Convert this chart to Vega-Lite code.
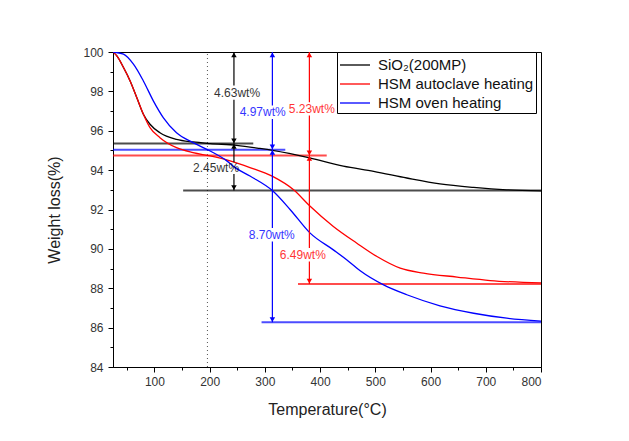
{
  "$schema": "https://vega.github.io/schema/vega-lite/v6.json",
  "width": 428,
  "height": 315,
  "autosize": "none",
  "padding": {"left": 113, "top": 52, "right": 88, "bottom": 74},
  "background": "white",
  "config": {
    "view": {"stroke": "black", "strokeWidth": 1},
    "font": "Liberation Sans",
    "axis": {
      "domainColor": "black",
      "tickColor": "black",
      "labelColor": "#333",
      "labelFont": "Liberation Sans",
      "labelFontSize": 12,
      "titleFont": "Liberation Sans",
      "titleFontSize": 15,
      "titleFontWeight": "normal",
      "titleColor": "#222",
      "grid": false
    }
  },
  "datasets": {
    "curves": [
      {"series": "SiO₂(200MP)", "T": 25, "v": 100},
      {"series": "SiO₂(200MP)", "T": 32, "v": 99.8},
      {"series": "SiO₂(200MP)", "T": 44, "v": 99.21},
      {"series": "SiO₂(200MP)", "T": 56, "v": 98.53},
      {"series": "SiO₂(200MP)", "T": 68, "v": 97.69},
      {"series": "SiO₂(200MP)", "T": 80, "v": 96.84},
      {"series": "SiO₂(200MP)", "T": 92, "v": 96.33},
      {"series": "SiO₂(200MP)", "T": 110, "v": 95.9},
      {"series": "SiO₂(200MP)", "T": 140, "v": 95.56},
      {"series": "SiO₂(200MP)", "T": 170, "v": 95.43},
      {"series": "SiO₂(200MP)", "T": 201, "v": 95.35},
      {"series": "SiO₂(200MP)", "T": 249, "v": 95.26},
      {"series": "SiO₂(200MP)", "T": 291, "v": 95.1},
      {"series": "SiO₂(200MP)", "T": 314, "v": 95.0},
      {"series": "SiO₂(200MP)", "T": 381, "v": 94.62},
      {"series": "SiO₂(200MP)", "T": 442, "v": 94.2},
      {"series": "SiO₂(200MP)", "T": 497, "v": 93.94},
      {"series": "SiO₂(200MP)", "T": 557, "v": 93.6},
      {"series": "SiO₂(200MP)", "T": 617, "v": 93.3},
      {"series": "SiO₂(200MP)", "T": 678, "v": 93.12},
      {"series": "SiO₂(200MP)", "T": 738, "v": 93.0},
      {"series": "SiO₂(200MP)", "T": 800, "v": 92.95},
      {"series": "HSM autoclave heating", "T": 25, "v": 100},
      {"series": "HSM autoclave heating", "T": 32, "v": 99.8},
      {"series": "HSM autoclave heating", "T": 44, "v": 99.21},
      {"series": "HSM autoclave heating", "T": 56, "v": 98.53},
      {"series": "HSM autoclave heating", "T": 68, "v": 97.69},
      {"series": "HSM autoclave heating", "T": 80, "v": 96.84},
      {"series": "HSM autoclave heating", "T": 92, "v": 96.16},
      {"series": "HSM autoclave heating", "T": 110, "v": 95.65},
      {"series": "HSM autoclave heating", "T": 140, "v": 95.14},
      {"series": "HSM autoclave heating", "T": 170, "v": 94.89},
      {"series": "HSM autoclave heating", "T": 201, "v": 94.72},
      {"series": "HSM autoclave heating", "T": 237, "v": 94.47},
      {"series": "HSM autoclave heating", "T": 273, "v": 94.13},
      {"series": "HSM autoclave heating", "T": 314, "v": 93.68},
      {"series": "HSM autoclave heating", "T": 352, "v": 93.0},
      {"series": "HSM autoclave heating", "T": 381, "v": 92.19},
      {"series": "HSM autoclave heating", "T": 424, "v": 91.14},
      {"series": "HSM autoclave heating", "T": 466, "v": 90.3},
      {"series": "HSM autoclave heating", "T": 503, "v": 89.61},
      {"series": "HSM autoclave heating", "T": 545, "v": 89.02},
      {"series": "HSM autoclave heating", "T": 587, "v": 88.77},
      {"series": "HSM autoclave heating", "T": 648, "v": 88.57},
      {"series": "HSM autoclave heating", "T": 708, "v": 88.39},
      {"series": "HSM autoclave heating", "T": 800, "v": 88.27},
      {"series": "HSM oven heating", "T": 25, "v": 100},
      {"series": "HSM oven heating", "T": 44, "v": 99.89},
      {"series": "HSM oven heating", "T": 62, "v": 99.38},
      {"series": "HSM oven heating", "T": 80, "v": 98.53},
      {"series": "HSM oven heating", "T": 98, "v": 97.52},
      {"series": "HSM oven heating", "T": 116, "v": 96.67},
      {"series": "HSM oven heating", "T": 140, "v": 95.9},
      {"series": "HSM oven heating", "T": 170, "v": 95.4},
      {"series": "HSM oven heating", "T": 201, "v": 94.97},
      {"series": "HSM oven heating", "T": 231, "v": 94.47},
      {"series": "HSM oven heating", "T": 243, "v": 94.19},
      {"series": "HSM oven heating", "T": 273, "v": 93.7},
      {"series": "HSM oven heating", "T": 314, "v": 92.95},
      {"series": "HSM oven heating", "T": 346, "v": 91.99},
      {"series": "HSM oven heating", "T": 382, "v": 90.8},
      {"series": "HSM oven heating", "T": 424, "v": 89.95},
      {"series": "HSM oven heating", "T": 448, "v": 89.45},
      {"series": "HSM oven heating", "T": 472, "v": 88.9},
      {"series": "HSM oven heating", "T": 515, "v": 88.17},
      {"series": "HSM oven heating", "T": 557, "v": 87.67},
      {"series": "HSM oven heating", "T": 617, "v": 87.11},
      {"series": "HSM oven heating", "T": 678, "v": 86.73},
      {"series": "HSM oven heating", "T": 738, "v": 86.48},
      {"series": "HSM oven heating", "T": 800, "v": 86.33}
    ],
    "hlines": [
      {"series": "SiO₂(200MP)", "x1": 25, "x2": 279, "v": 95.35},
      {"series": "SiO₂(200MP)", "x1": 152, "x2": 800, "v": 92.97},
      {"series": "HSM oven heating", "x1": 25, "x2": 337, "v": 95.04},
      {"series": "HSM oven heating", "x1": 294, "x2": 800, "v": 86.27},
      {"series": "HSM autoclave heating", "x1": 25, "x2": 412, "v": 94.74},
      {"series": "HSM autoclave heating", "x1": 360, "x2": 800, "v": 88.22}
    ],
    "vsegs": [
      {"series": "SiO₂(200MP)", "T": 244, "y1": 100, "y2": 98.3},
      {"series": "SiO₂(200MP)", "T": 244, "y1": 97.58, "y2": 95.35},
      {"series": "SiO₂(200MP)", "T": 244, "y1": 95.35, "y2": 94.4},
      {"series": "SiO₂(200MP)", "T": 244, "y1": 93.8, "y2": 92.97},
      {"series": "HSM oven heating", "T": 313.6, "y1": 100, "y2": 97.28},
      {"series": "HSM oven heating", "T": 313.6, "y1": 96.6, "y2": 95.04},
      {"series": "HSM oven heating", "T": 313.6, "y1": 95.04, "y2": 91.06},
      {"series": "HSM oven heating", "T": 313.6, "y1": 90.38, "y2": 86.27},
      {"series": "HSM autoclave heating", "T": 380.6, "y1": 100, "y2": 97.45},
      {"series": "HSM autoclave heating", "T": 380.6, "y1": 96.77, "y2": 94.74},
      {"series": "HSM autoclave heating", "T": 380.6, "y1": 94.74, "y2": 90.04},
      {"series": "HSM autoclave heating", "T": 380.6, "y1": 89.36, "y2": 88.22}
    ],
    "heads": [
      {"series": "SiO₂(200MP)", "T": 244, "v": 99.85, "dir": "up"},
      {"series": "SiO₂(200MP)", "T": 244, "v": 95.49, "dir": "down"},
      {"series": "SiO₂(200MP)", "T": 244, "v": 95.21, "dir": "up"},
      {"series": "SiO₂(200MP)", "T": 244, "v": 93.11, "dir": "down"},
      {"series": "HSM oven heating", "T": 313.6, "v": 99.85, "dir": "up"},
      {"series": "HSM oven heating", "T": 313.6, "v": 95.18, "dir": "down"},
      {"series": "HSM oven heating", "T": 313.6, "v": 94.9, "dir": "up"},
      {"series": "HSM oven heating", "T": 313.6, "v": 86.41, "dir": "down"},
      {"series": "HSM autoclave heating", "T": 380.6, "v": 99.85, "dir": "up"},
      {"series": "HSM autoclave heating", "T": 380.6, "v": 94.88, "dir": "down"},
      {"series": "HSM autoclave heating", "T": 380.6, "v": 94.6, "dir": "up"},
      {"series": "HSM autoclave heating", "T": 380.6, "v": 88.36, "dir": "down"}
    ],
    "labels": [
      {"series": "SiO₂(200MP)", "T": 249.6, "v": 97.94, "text": "4.63wt%"},
      {"series": "SiO₂(200MP)", "T": 211.6, "v": 94.09, "text": "2.45wt%"},
      {"series": "HSM oven heating", "T": 296, "v": 96.94, "text": "4.97wt%"},
      {"series": "HSM oven heating", "T": 312.5, "v": 90.72, "text": "8.70wt%"},
      {"series": "HSM autoclave heating", "T": 385, "v": 97.11, "text": "5.23wt%"},
      {"series": "HSM autoclave heating", "T": 368.7, "v": 89.7, "text": "6.49wt%"}
    ],
    "dotted": [
      {"T": 196, "y1": 84, "y2": 100}
    ]
  },
  "layer": [
    {
      "data": {"name": "dotted"},
      "mark": {"type": "rule", "color": "#555", "strokeDash": [1, 3], "strokeWidth": 1},
      "encoding": {
        "x": {"field": "T", "type": "quantitative",
              "scale": {"domain": [25, 800], "nice": false, "zero": false},
              "axis": {"orient": "bottom", "values": [50, 150, 250, 350, 450, 550, 650, 750], "labels": false, "tickSize": 3, "domain": false, "title": null}},
        "y": {"field": "y1", "type": "quantitative",
              "scale": {"domain": [84, 100], "nice": false, "zero": false},
              "axis": {"orient": "left", "values": [85, 87, 89, 91, 93, 95, 97, 99], "labels": false, "tickSize": 3, "domain": false, "title": null}},
        "y2": {"field": "y2"}
      }
    },
    {
      "data": {"name": "hlines"},
      "mark": {"type": "rule", "strokeWidth": 2, "opacity": 0.7},
      "encoding": {
        "x": {"field": "x1", "type": "quantitative", "axis": null},
        "x2": {"field": "x2"},
        "y": {"field": "v", "type": "quantitative", "axis": null},
        "color": {"field": "series", "type": "nominal", "legend": null}
      }
    },
    {
      "data": {"name": "curves"},
      "mark": {"type": "line", "strokeWidth": 1.3, "clip": true, "interpolate": "monotone"},
      "encoding": {
        "x": {"field": "T", "type": "quantitative",
              "axis": {"orient": "bottom", "values": [100, 200, 300, 400, 500, 600, 700, 800], "tickSize": 5, "labelPadding": 4, "title": "Temperature(°C)", "titleFontSize": 16, "titlePadding": 14}},
        "y": {"field": "v", "type": "quantitative",
              "axis": {"orient": "left", "values": [84, 86, 88, 90, 92, 94, 96, 98, 100], "tickSize": 5, "labelPadding": 5, "title": "Weight loss(%)", "titleFontSize": 16, "titlePadding": 20}},
        "color": {
          "field": "series", "type": "nominal",
          "scale": {"domain": ["SiO₂(200MP)", "HSM autoclave heating", "HSM oven heating"], "range": ["#000000", "#ff0000", "#0000ff"]},
          "legend": {
            "orient": "none", "legendX": 224, "legendY": 0, "title": null,
            "symbolType": "M-1,0H2", "symbolSize": 400, "symbolStrokeWidth": 1.3,
            "labelFontSize": 15, "labelFont": "Liberation Sans", "labelColor": "#111",
            "strokeColor": "black", "fillColor": "white", "padding": 2, "rowPadding": 0, "labelOffset": 17
          }
        },
        "order": {"field": "T", "type": "quantitative"}
      }
    },
    {
      "data": {"name": "vsegs"},
      "mark": {"type": "rule", "strokeWidth": 1.2},
      "encoding": {
        "x": {"field": "T", "type": "quantitative", "axis": null},
        "y": {"field": "y1", "type": "quantitative", "axis": null},
        "y2": {"field": "y2"},
        "color": {"field": "series", "type": "nominal", "legend": null}
      }
    },
    {
      "data": {"name": "heads"},
      "mark": {"type": "point", "filled": true, "opacity": 1, "size": 30},
      "encoding": {
        "x": {"field": "T", "type": "quantitative", "axis": null},
        "y": {"field": "v", "type": "quantitative", "axis": null},
        "color": {"field": "series", "type": "nominal", "legend": null},
        "shape": {"field": "dir", "type": "nominal", "scale": {"domain": ["up", "down"], "range": ["triangle-up", "triangle-down"]}, "legend": null}
      }
    },
    {
      "data": {"name": "labels"},
      "mark": {"type": "text", "fontSize": 12, "font": "Liberation Sans", "opacity": 0.8},
      "encoding": {
        "x": {"field": "T", "type": "quantitative", "axis": null},
        "y": {"field": "v", "type": "quantitative", "axis": null},
        "text": {"field": "text"},
        "color": {"field": "series", "type": "nominal", "legend": null}
      }
    }
  ],
  "resolve": {"axis": {"x": "independent", "y": "independent"}, "legend": {"color": "independent"}}
}
